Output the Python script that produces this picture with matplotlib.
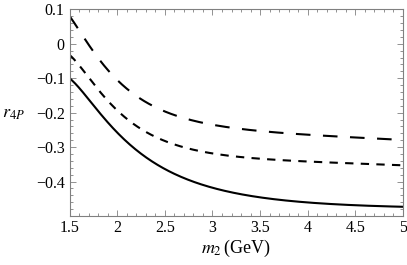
import numpy as np
import matplotlib.pyplot as plt
from matplotlib.ticker import MultipleLocator, FuncFormatter

m2 = [1.5, 1.75, 2.0, 2.25, 2.5, 2.75, 3.0, 3.5, 4.0, 4.5, 5.0]
r_solid = [-0.10, -0.18, -0.258, -0.316, -0.362, -0.398, -0.423, -0.443, -0.459, -0.468, -0.475]
r_short = [-0.033, -0.114, -0.196, -0.249, -0.278, -0.305, -0.320, -0.333, -0.342, -0.349, -0.352]
r_long = [0.08, -0.022, -0.105, -0.163, -0.197, -0.218, -0.234, -0.253, -0.266, -0.273, -0.278]

plt.rcParams['font.family'] = ['Liberation Serif', 'DejaVu Serif']
plt.rcParams['mathtext.fontset'] = 'stix'

fig = plt.figure(figsize=(4.07, 2.65), dpi=100)
ax = fig.add_axes([0.171, 0.185, 0.819, 0.780])

# smooth the read-off points for drawing
xs = np.linspace(1.5, 5, 300)
def smooth(y):
    c = np.polyfit(1 / np.array(m2), y, 4)
    return np.polyval(c, 1 / xs)

lw = 1.5
ax.plot(xs, smooth(r_solid), color='black', lw=lw)
ax.plot(xs, smooth(r_short), color='black', lw=lw, dashes=(4, 3.5))
ax.plot(xs, smooth(r_long), color='black', lw=lw, dashes=(7, 6))

ax.set_xlim(1.5, 5)
ax.set_ylim(-0.5, 0.1)
ax.xaxis.set_major_locator(MultipleLocator(0.5))
ax.xaxis.set_minor_locator(MultipleLocator(0.1))
ax.yaxis.set_major_locator(MultipleLocator(0.1))
ax.yaxis.set_minor_locator(MultipleLocator(0.02))

def fmt(v, pos):
    if abs(v) < 1e-9:
        return '0'
    if v < -0.45:
        return ''
    s = '%g' % round(v, 2)
    return s.replace('-', '\u2212')
ax.xaxis.set_major_formatter(FuncFormatter(lambda v, p: '%g' % v))
ax.yaxis.set_major_formatter(FuncFormatter(fmt))

gray = '#808080'
for s in ax.spines.values():
    s.set_color(gray)
    s.set_linewidth(0.8)
ax.tick_params(which='both', direction='in', top=True, right=True, colors=gray,
               labelcolor='black', labelsize=11.5, width=0.6)
ax.tick_params(which='major', length=4)
ax.tick_params(which='minor', length=2)
ax.tick_params(axis='x', pad=3)

fig.text(0.58, 0.045, r'$m_2\,$(GeV)', fontsize=13, ha='center', va='baseline')
fig.text(0.005, 0.57, r'$r_{4P}$', fontsize=13, ha='left', va='center')

fig.savefig('out.png', dpi=100)
